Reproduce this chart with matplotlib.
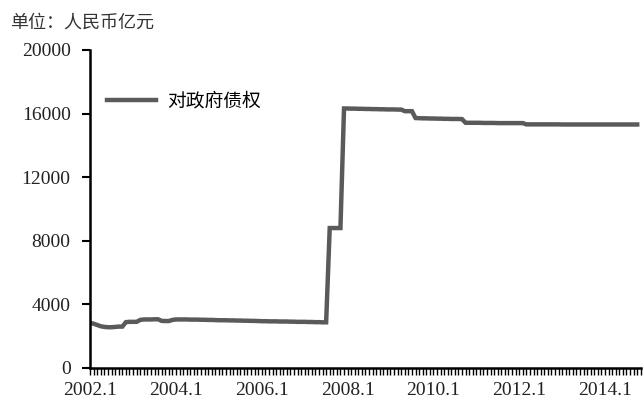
import numpy as np
import matplotlib.pyplot as plt
from matplotlib.ticker import MultipleLocator

plt.rcParams['font.family'] = ['Noto Sans CJK SC', 'DejaVu Sans']

# monthly, 2002.1 - 2014.10
claims_2002 = [2830, 2780, 2700, 2620, 2580, 2560, 2560, 2580, 2600, 2600, 2880, 2900]
claims_2003 = [2900, 2900, 3020, 3050, 3050, 3050, 3060, 3060, 2960, 2950, 2950, 3020]
claims_2004 = [3050, 3050, 3050, 3050, 3040, 3040, 3040, 3030, 3030, 3020, 3020, 3010]
claims_2005 = [3000, 3000, 3000, 2990, 2990, 2980, 2980, 2970, 2970, 2960, 2960, 2950]
claims_2006 = [2940, 2940, 2930, 2930, 2930, 2920, 2920, 2920, 2910, 2910, 2900, 2900]
claims_2007 = [2900, 2890, 2890, 2880, 2880, 2870, 2870, 8800, 8800, 8800, 8800, 16320]
claims_2008 = [16320, 16310, 16310, 16300, 16300, 16290, 16290, 16280, 16280, 16270, 16270, 16260]
claims_2009 = [16260, 16260, 16250, 16250, 16150, 16150, 16150, 15720, 15710, 15700, 15700, 15690]
claims_2010 = [15690, 15680, 15680, 15670, 15670, 15660, 15660, 15660, 15650, 15420, 15420, 15420]
claims_2011 = [15420, 15420, 15410, 15410, 15410, 15410, 15400, 15400, 15400, 15400, 15400, 15400]
claims_2012 = [15400, 15400, 15320, 15320, 15320, 15320, 15320, 15320, 15320, 15320, 15320, 15320]
claims_2013 = [15313] * 12
claims_2014 = [15313] * 10

claims = (claims_2002 + claims_2003 + claims_2004 + claims_2005 + claims_2006 +
          claims_2007 + claims_2008 + claims_2009 + claims_2010 + claims_2011 +
          claims_2012 + claims_2013 + claims_2014)
months = np.arange(len(claims))

xtick_labels = ['2002.1', '2004.1', '2006.1', '2008.1', '2010.1', '2012.1', '2014.1']
yticks = [0, 4000, 8000, 12000, 16000, 20000]

fig = plt.figure(figsize=(6.44, 4.03), dpi=100)
ax = fig.add_axes([0.14, 0.087, 0.855, 0.789])

ax.plot(months, claims, color='#5a5a5a', lw=3.2, solid_joinstyle='miter', label='对政府债权')

ax.set_xlim(0, len(claims))
ax.set_ylim(0, 20000)
ax.set_xticks(np.arange(0, len(claims), 24))
ax.set_xticklabels(xtick_labels)
ax.xaxis.set_minor_locator(MultipleLocator(1))
ax.set_yticks(yticks)

for lab in ax.get_xticklabels() + ax.get_yticklabels():
    lab.set_fontfamily('Liberation Serif')
    lab.set_fontsize(14)
    lab.set_color('#222222')

ax.tick_params(axis='x', which='both', direction='out', length=5, width=1.0, pad=5)
ax.tick_params(axis='y', direction='out', length=6, width=1.5, pad=8)
for s in ['top', 'right']:
    ax.spines[s].set_visible(False)
for s in ['left', 'bottom']:
    ax.spines[s].set_linewidth(1.8)

ax.legend(loc='upper left', bbox_to_anchor=(0.0, 0.925), frameon=False,
          handlelength=2.6, handletextpad=0.6, prop={'size': 13.5})

fig.text(0.015, 0.945, '单位：人民币亿元', fontsize=13, color='#333333', va='center')

fig.savefig('out.png', dpi=100)
